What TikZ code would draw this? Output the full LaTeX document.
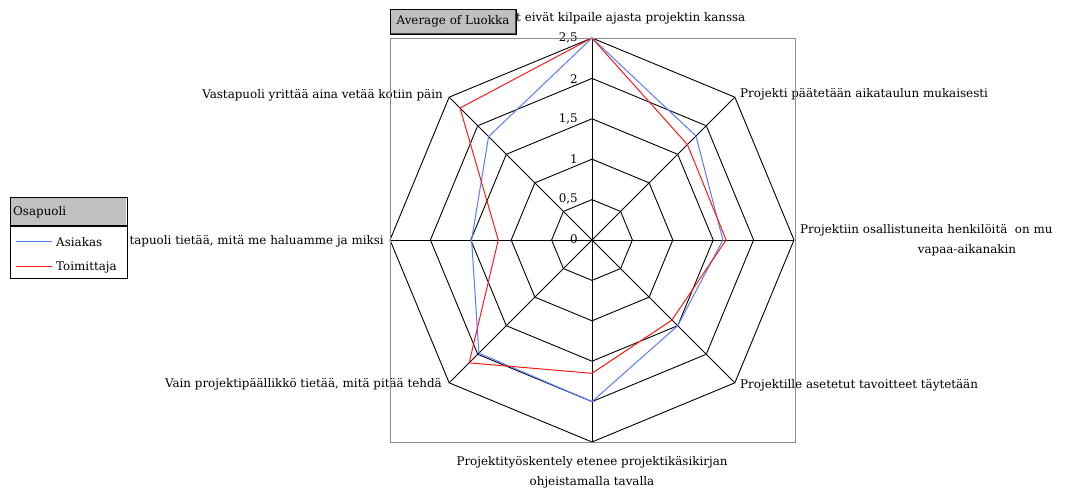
\documentclass[tikz,border=0pt]{standalone}
\usepackage{fontspec}
\setmainfont{DejaVu Serif}
\definecolor{seriesA}{HTML}{5A7DFF}
\definecolor{seriesB}{HTML}{FF1A1A}
\definecolor{panel}{HTML}{C0C0C0}
\definecolor{frame}{HTML}{8C8C8C}
\begin{document}
\begin{tikzpicture}[x=1pt,y=-1pt,
  lbl/.style={inner sep=0pt,font=\fontsize{11.9}{13}\selectfont},
  tick/.style={inner sep=0pt,anchor=east,font=\fontsize{11.9}{13}\selectfont},
  grid/.style={black,line width=0.9pt},
  serie/.style={line width=1pt,line join=round}]
\useasboundingbox (0,0) rectangle (1069,489);
\fill[white] (0,0) rectangle (1069,489);
\def\u{80.8}
\begin{scope}[shift={(592,240)}]
  % octagonal rings at 0.5 ... 2.5
  \foreach \v in {0.5,1,1.5,2,2.5}
    \draw[grid] (-90:\v*\u) \foreach \i in {1,...,7}{ -- ({-90+45*\i}:\v*\u)} -- cycle;
  % spokes
  \foreach \i in {0,...,7}
    \draw[grid] (0,0) -- ({-90+45*\i}:2.5*\u);
  \fill (0,0) circle (1.6pt);
  % series: Asiakas
  \draw[serie,seriesA]
    (-90:2.5*\u) -- (-45:1.82*\u) -- (0:1.62*\u) -- (45:1.5*\u)
    -- (90:2.0*\u) -- (135:1.98*\u) -- (180:1.49*\u) -- (225:1.81*\u) -- cycle;
  % series: Toimittaja
  \draw[serie,seriesB]
    (-90:2.5*\u) -- (-45:1.67*\u) -- (0:1.66*\u) -- (45:1.4*\u)
    -- (90:1.65*\u) -- (135:2.15*\u) -- (180:1.16*\u) -- (225:2.31*\u) -- cycle;
\end{scope}
% value scale
\node[tick] (t25) at (578,38) {2,5};
\node[tick] (t20) at (578,79) {2};
\node[tick] (t15) at (578,119) {1,5};
\node[tick] (t10) at (578,159) {1};
\node[tick] (t05) at (578,199) {0,5};
\node[tick] (t00) at (578,239) {0};
% axis labels
\node[lbl,anchor=west] (a0) at (516,18) {t eivät kilpaile ajasta projektin kanssa};
\node[lbl,anchor=west] (a1) at (740,94) {Projekti päätetään aikataulun mukaisesti};
\node[lbl,anchor=west] (a2) at (800,230) {Projektiin osallistuneita henkilöitä\ \ on mu};
\node[lbl] (a2b) at (967,250) {vapaa-aikanakin};
\node[lbl,anchor=west] (a3) at (740,385) {Projektille asetetut tavoitteet täytetään};
\node[lbl] (a4) at (592,462) {Projektityöskentely etenee projektikäsikirjan};
\node[lbl] (a4b) at (592,482) {ohjeistamalla tavalla};
\node[lbl,anchor=east] (a5) at (442,384) {Vain projektipäällikkö tietää, mitä pitää tehdä};
\node[lbl,anchor=east] (a6) at (384,241) {tapuoli tietää, mitä me haluamme ja miksi};
\node[lbl,anchor=east] (a7) at (443,95) {Vastapuoli yrittää aina vetää kotiin päin};
% plot area frame
\draw[frame,line width=0.9pt] (390,38) rectangle (795,442);
% field button
\draw[fill=panel,line width=0.9pt] (390,9) rectangle (516,34);
\draw[black!70,line width=0.9pt] (391,33.5) -- (515.5,33.5) -- (515.5,10);
\node[lbl] (btn) at (453,21.5) {Average of Luokka};
% legend
\draw[fill=white,line width=0.9pt] (10,197) rectangle (127,278);
\fill[panel] (11,198) rectangle (126,225);
\draw[line width=1.8pt] (10,226) -- (127,226);
\node[lbl,anchor=west] (lh) at (13,212) {Osapuoli};
\coordinate (la1) at (16,241.5);
\coordinate (la2) at (52,241.5);
\coordinate (lb1) at (16,266.5);
\coordinate (lb2) at (52,266.5);
\draw[seriesA,line width=1.3pt] (la1) -- (la2);
\draw[seriesB,line width=1.3pt] (lb1) -- (lb2);
\node[lbl,anchor=west] (l1) at (56,242) {Asiakas};
\node[lbl,anchor=west] (l2) at (56,267) {Toimittaja};
\end{tikzpicture}
\end{document}
